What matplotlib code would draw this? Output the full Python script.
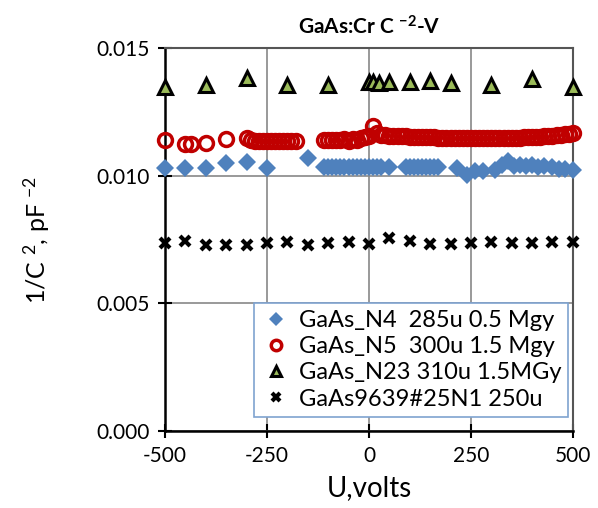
import matplotlib
matplotlib.use('Agg')
import matplotlib.pyplot as plt
import numpy as np

plt.rcParams['font.family'] = ['Lato', 'DejaVu Sans']
plt.rcParams['mathtext.fontset'] = 'custom'
plt.rcParams['mathtext.rm'] = 'Lato'
plt.rcParams['mathtext.it'] = 'Lato'
plt.rcParams['mathtext.bf'] = 'Lato:bold'
plt.rcParams['axes.unicode_minus'] = False

# GaAs_N4 285u 0.5 Mgy
u_n4 = [-500, -450, -400, -350, -300, -250, -150,
        -110, -100, -90, -80, -70, -60, -50, -40, -30, -20, -10, 0, 10, 20, 30, 50,
        90, 100, 110, 120, 130, 140, 150, 160, 170,
        215, 240, 260, 280, 310, 325, 340, 355, 370, 385, 400, 415, 430, 450, 465, 480, 500]
c_n4 = [0.01029, 0.01030, 0.01030, 0.01048, 0.01055, 0.01030, 0.01068,
        0.01033, 0.01033, 0.01034, 0.01033, 0.01034, 0.01035, 0.01034, 0.01033, 0.01034, 0.01033, 0.01034, 0.01035, 0.01034, 0.01033, 0.01034, 0.01035,
        0.01035, 0.01034, 0.01035, 0.01034, 0.01035, 0.01035, 0.01034, 0.01035, 0.01034,
        0.01029, 0.01003, 0.01020, 0.01020, 0.01022, 0.01040, 0.01056, 0.01038, 0.01040, 0.01036, 0.01040, 0.01035, 0.01038, 0.01034, 0.01026, 0.01025, 0.01022]

# GaAs_N5 300u 1.5 Mgy
u_n5 = [-500, -450, -437, -400, -350, -300,
        -290, -280, -270, -260, -250, -240, -230, -220, -210, -200, -190, -180,
        -110, -100, -90, -80, -70, -60, -50, -40, -30, -20, -10, 0, 10, 20, 30, 40, 50,
        60, 70, 80, 90, 100, 110, 120, 130, 140, 150, 160, 170, 180, 190, 200,
        210, 220, 230, 240, 250, 260, 270, 280, 290, 300, 310, 320, 330, 340, 350,
        360, 370, 380, 390, 400, 410, 420, 430, 440, 450, 460, 470, 480, 490, 500]
c_n5 = [0.01140, 0.01124, 0.01124, 0.01129, 0.01142, 0.01146,
        0.01138, 0.01136, 0.01137, 0.01136, 0.01135, 0.01136, 0.01137, 0.01136, 0.01135, 0.01136, 0.01137, 0.01136,
        0.01138, 0.01139, 0.01138, 0.01139, 0.01138, 0.01142, 0.01136, 0.01144, 0.01139, 0.01146, 0.01150, 0.01156, 0.01195, 0.01165, 0.01160, 0.01158, 0.01157,
        0.01156, 0.01155, 0.01155, 0.01154, 0.01153, 0.01153, 0.01152, 0.01151, 0.01151, 0.01150, 0.01150, 0.01149, 0.01149, 0.01148, 0.01148,
        0.01147, 0.01147, 0.01146, 0.01146, 0.01146, 0.01146, 0.01146, 0.01146, 0.01146, 0.01146, 0.01147, 0.01147, 0.01147, 0.01147, 0.01148,
        0.01148, 0.01149, 0.01150, 0.01150, 0.01151, 0.01152, 0.01153, 0.01154, 0.01155, 0.01157, 0.01159, 0.01161, 0.01163, 0.01164, 0.01166]

# GaAs_N23 310u 1.5MGy
u_n23 = [-500, -400, -300, -200, -100, 0, 10, 25, 50, 100, 150, 200, 300, 400, 500]
c_n23 = [0.01348, 0.01355, 0.01381, 0.01355, 0.01355, 0.01365, 0.01366, 0.01363, 0.01368, 0.01368, 0.01370, 0.01362, 0.01355, 0.01378, 0.01348]

# GaAs9639#25N1 250u
u_n1 = [-500, -450, -400, -350, -300, -250, -200, -150, -100, -50, 0,
        50, 100, 150, 200, 250, 300, 350, 400, 450, 500]
c_n1 = [0.00737, 0.00745, 0.00728, 0.00728, 0.00728, 0.00736, 0.00741, 0.00728, 0.00736, 0.00740, 0.00732,
        0.00755, 0.00744, 0.00732, 0.00732, 0.00736, 0.00740, 0.00736, 0.00736, 0.00741, 0.00740]

fig = plt.figure(figsize=(5.98, 5.08), dpi=100)
ax = fig.add_axes([0.276, 0.1516, 0.682, 0.754])

ax.plot(u_n4, c_n4, 'D', ms=9, color='#4F81BD', mec='#4F81BD', mew=0,
        label='GaAs_N4  285u 0.5 Mgy', zorder=3, clip_on=False)
ax.plot(u_n5, c_n5, 'o', ms=10, mfc='none', mec='#C00000', mew=2.5,
        label='GaAs_N5  300u 1.5 Mgy', zorder=3, clip_on=False)
ax.plot(u_n23, c_n23, '^', ms=10, mfc='#9BBB59', mec='black', mew=2.2,
        label='GaAs_N23 310u 1.5MGy', zorder=3, clip_on=False)
ax.plot(u_n1, c_n1, 'x', ms=7, color='black', mew=3,
        label='GaAs9639#25N1 250u', zorder=3, clip_on=False)

ax.set_xlim(-500, 500)
ax.set_ylim(0, 0.015)
ax.set_xticks([-500, -250, 0, 250, 500])
ax.set_yticks([0, 0.005, 0.010, 0.015])
ax.set_yticklabels(['0.000', '0.005', '0.010', '0.015'])
ax.grid(True, color='#888888', lw=1.2)
ax.set_axisbelow(True)
ax.tick_params(axis='both', direction='inout', length=10, width=1.5, labelsize=15, pad=6)
for s in ['top', 'right']:
    ax.spines[s].set_color('#555555')
    ax.spines[s].set_linewidth(1.5)
for s in ['left', 'bottom']:
    ax.spines[s].set_color('black')
    ax.spines[s].set_linewidth(1.8)

ax.set_xlabel('U,volts', fontsize=20, labelpad=6)
ax.set_ylabel('1/C $^{2}$, pF $^{-2}$', fontsize=18, labelpad=32)
ax.set_title(r'GaAs:Cr C $^{\mathbf{-2}}$-V', fontsize=15, fontweight='bold', pad=10)

leg = ax.legend(loc='lower right', bbox_to_anchor=(1.0, 0.025), fontsize=17,
                fancybox=False, framealpha=1, edgecolor='#7FA3D0',
                handlelength=1.3, handletextpad=0.3, borderpad=0.3,
                labelspacing=0.22, markerscale=0.75, borderaxespad=0.2)
leg.get_frame().set_linewidth(1.2)

fig.savefig('out.png', dpi=100)
